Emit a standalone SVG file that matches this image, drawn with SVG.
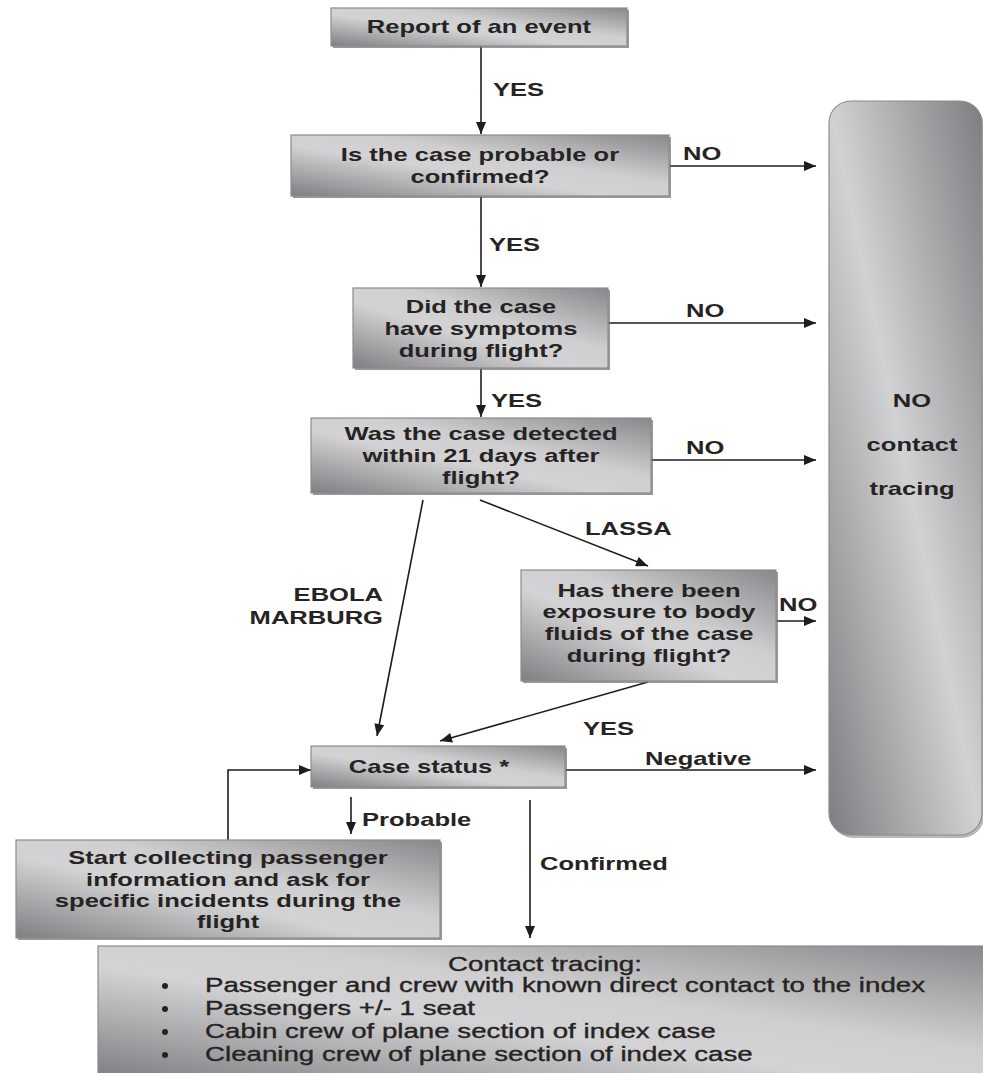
<svg xmlns="http://www.w3.org/2000/svg" width="983" height="1073" viewBox="0 0 983 1073">
<defs>
<linearGradient id="boxg" x1="0" y1="1" x2="1" y2="0">
<stop offset="0" stop-color="#7f7f83"/>
<stop offset="0.42" stop-color="#d3d3d5"/>
<stop offset="0.6" stop-color="#cfcfd1"/>
<stop offset="1" stop-color="#88888c"/>
</linearGradient>
<linearGradient id="bigg" x1="0" y1="1" x2="1" y2="0">
<stop offset="0" stop-color="#7e7e82"/>
<stop offset="0.5" stop-color="#d2d2d4"/>
<stop offset="1" stop-color="#7e7e82"/>
</linearGradient>
<marker id="ah" viewBox="0 0 12 10" refX="12" refY="5" markerWidth="13" markerHeight="10" markerUnits="userSpaceOnUse" orient="auto">
<path d="M0,0 L12,5 L0,10 Z" fill="#1f1d1c"/>
</marker>
<style>
.box{fill:url(#boxg);stroke:#8c8c8c;stroke-width:1.2}
.sh{fill:#6e6e70;opacity:0.7}
.t{font-family:"Liberation Sans",Arial,sans-serif;font-weight:bold;font-size:18px;fill:#262322;text-anchor:middle}
.l{font-family:"Liberation Sans",Arial,sans-serif;font-weight:bold;font-size:18px;fill:#262322}
.r{font-family:"Liberation Sans",Arial,sans-serif;font-size:19.5px;fill:#262322;stroke:#262322;stroke-width:0.35}
.c{fill:none;stroke:#1f1d1c;stroke-width:1.6;marker-end:url(#ah)}
</style>
</defs>
<rect width="983" height="1073" fill="#ffffff"/>

<g id="connectors">
<line class="c" x1="481" y1="46" x2="481" y2="134"/>
<line class="c" x1="669" y1="166" x2="816" y2="166"/>
<line class="c" x1="481" y1="196" x2="481" y2="287"/>
<line class="c" x1="608" y1="323" x2="816" y2="323"/>
<line class="c" x1="481" y1="368" x2="481" y2="417"/>
<line class="c" x1="651" y1="460" x2="816" y2="460"/>
<line class="c" x1="423" y1="500" x2="377" y2="736"/>
<line class="c" x1="480" y1="500" x2="648" y2="566"/>
<line class="c" x1="776" y1="621" x2="816" y2="621"/>
<line class="c" x1="648" y1="682" x2="440" y2="741"/>
<line class="c" x1="565" y1="770" x2="816" y2="770"/>
<polyline class="c" points="228,840 228,770 311,770"/>
<line class="c" x1="351" y1="797" x2="351" y2="834"/>
<line class="c" x1="530" y1="800" x2="530" y2="938"/>
<g transform="translate(493,96) scale(1.42,1)"><text class="l">YES</text></g>
<g transform="translate(683,160) scale(1.42,1)"><text class="l">NO</text></g>
<g transform="translate(489,251) scale(1.42,1)"><text class="l">YES</text></g>
<g transform="translate(686,317) scale(1.42,1)"><text class="l">NO</text></g>
<g transform="translate(491,407) scale(1.42,1)"><text class="l">YES</text></g>
<g transform="translate(686,454) scale(1.42,1)"><text class="l">NO</text></g>
<g transform="translate(585,535) scale(1.42,1)"><text class="l">LASSA</text></g>
<g transform="translate(383,601) scale(1.42,1)"><text class="l" text-anchor="end">EBOLA</text></g>
<g transform="translate(383,624) scale(1.42,1)"><text class="l" text-anchor="end">MARBURG</text></g>
<g transform="translate(779,611) scale(1.42,1)"><text class="l">NO</text></g>
<g transform="translate(583,735) scale(1.42,1)"><text class="l">YES</text></g>
<g transform="translate(645,765) scale(1.42,1)"><text class="l">Negative</text></g>
<g transform="translate(362,826) scale(1.42,1)"><text class="l">Probable</text></g>
<g transform="translate(540,870) scale(1.42,1)"><text class="l">Confirmed</text></g>
</g>

<g id="no-contact-tracing">
<rect x="831" y="104" width="153" height="734" rx="22" fill="#8a8a8c" opacity="0.6"/>
<rect x="829" y="101" width="153" height="734" rx="22" fill="url(#bigg)" stroke="#8c8c8c" stroke-width="1.2"/>
<g transform="translate(912,407) scale(1.42,1)"><text class="t">NO</text></g>
<g transform="translate(912,451) scale(1.42,1)"><text class="t">contact</text></g>
<g transform="translate(912,495) scale(1.42,1)"><text class="t">tracing</text></g>
</g>

<g id="report">
<rect class="sh" x="333" y="10" width="296" height="38"/>
<rect class="box" x="331" y="8" width="296" height="38"/>
<g transform="translate(479,33) scale(1.42,1)"><text class="t">Report of an event</text></g>
</g>

<g id="probable-confirmed">
<rect class="sh" x="293" y="137" width="378" height="61"/>
<rect class="box" x="291" y="135" width="378" height="61"/>
<g transform="translate(480,161) scale(1.42,1)"><text class="t">Is the case probable or</text></g>
<g transform="translate(480,183) scale(1.42,1)"><text class="t">confirmed?</text></g>
</g>

<g id="symptoms">
<rect class="sh" x="355" y="290" width="255" height="80"/>
<rect class="box" x="353" y="288" width="255" height="80"/>
<g transform="translate(481,313) scale(1.42,1)"><text class="t">Did the case</text></g>
<g transform="translate(481,335) scale(1.42,1)"><text class="t">have symptoms</text></g>
<g transform="translate(481,357) scale(1.42,1)"><text class="t">during flight?</text></g>
</g>

<g id="detected">
<rect class="sh" x="313" y="420" width="340" height="75"/>
<rect class="box" x="311" y="418" width="340" height="75"/>
<g transform="translate(481,440) scale(1.42,1)"><text class="t">Was the case detected</text></g>
<g transform="translate(481,462) scale(1.42,1)"><text class="t">within 21 days after</text></g>
<g transform="translate(481,484) scale(1.42,1)"><text class="t">flight?</text></g>
</g>

<g id="exposure">
<rect class="sh" x="523" y="572" width="255" height="111"/>
<rect class="box" x="521" y="570" width="255" height="111"/>
<g transform="translate(649,597) scale(1.42,1)"><text class="t">Has there been</text></g>
<g transform="translate(649,618) scale(1.42,1)"><text class="t">exposure to body</text></g>
<g transform="translate(649,640) scale(1.42,1)"><text class="t">fluids of the case</text></g>
<g transform="translate(649,662) scale(1.42,1)"><text class="t">during flight?</text></g>
</g>

<g id="case-status">
<rect class="sh" x="313" y="748" width="254" height="41"/>
<rect class="box" x="311" y="746" width="254" height="41"/>
<g transform="translate(429,773) scale(1.42,1)"><text class="t">Case status *</text></g>
</g>

<g id="collect-info">
<rect class="sh" x="18" y="842" width="424" height="98"/>
<rect class="box" x="16" y="840" width="424" height="98"/>
<g transform="translate(228,864) scale(1.42,1)"><text class="t">Start collecting passenger</text></g>
<g transform="translate(228,886) scale(1.42,1)"><text class="t">information and ask for</text></g>
<g transform="translate(228,907) scale(1.42,1)"><text class="t">specific incidents during the</text></g>
<g transform="translate(228,928) scale(1.42,1)"><text class="t">flight</text></g>
</g>

<g id="contact-tracing">
<rect class="box" x="98" y="946" width="890" height="132"/>
<g transform="translate(545,971) scale(1.42,1)"><text class="r" text-anchor="middle">Contact tracing:</text></g>
<circle cx="165" cy="986" r="3" fill="#262322"/>
<circle cx="165" cy="1009" r="3" fill="#262322"/>
<circle cx="165" cy="1032" r="3" fill="#262322"/>
<circle cx="165" cy="1055" r="3" fill="#262322"/>
<g transform="translate(205,992) scale(1.42,1)"><text class="r">Passenger and crew with known direct contact to the index</text></g>
<g transform="translate(205,1015) scale(1.42,1)"><text class="r">Passengers +/- 1 seat</text></g>
<g transform="translate(205,1038) scale(1.42,1)"><text class="r">Cabin crew of plane section of index case</text></g>
<g transform="translate(205,1061) scale(1.42,1)"><text class="r">Cleaning crew of plane section of index case</text></g>
</g>
</svg>
